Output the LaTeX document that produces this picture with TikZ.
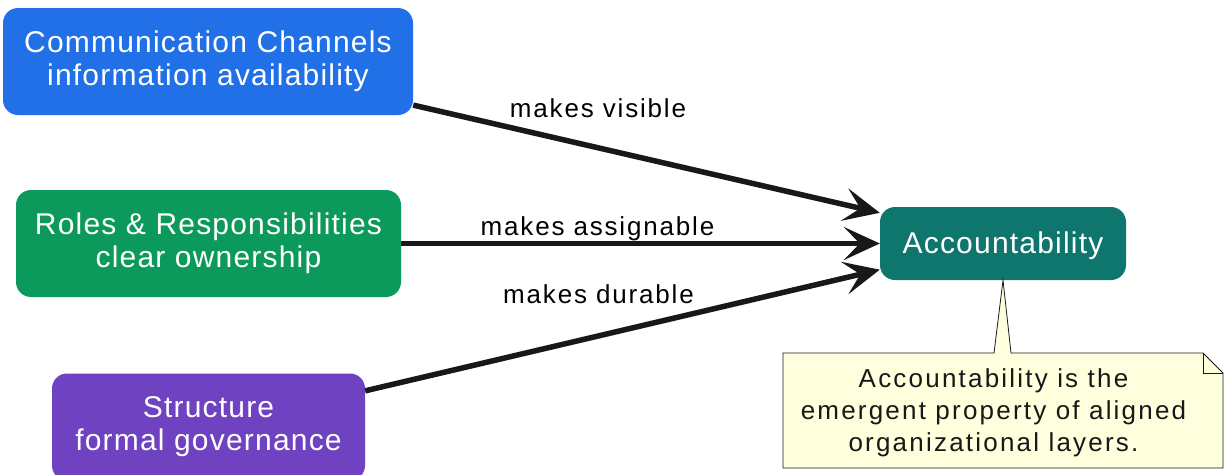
\documentclass[tikz,border=0pt]{standalone}
\usepackage{fontspec}
\setmainfont{Liberation Sans}
\newfontfamily\boxfont[LetterSpace=4]{Liberation Sans}
\newfontfamily\labfont[LetterSpace=7]{Liberation Sans}
\newfontfamily\notefont[LetterSpace=8.5]{Liberation Sans}
\usetikzlibrary{arrows.meta}
\definecolor{commblue}{HTML}{2170E8}
\definecolor{rolegreen}{HTML}{0B9A5B}
\definecolor{structpurple}{HTML}{6F42C1}
\definecolor{accteal}{HTML}{0F766E}
\definecolor{notefill}{HTML}{FEFFDD}
\definecolor{ink}{HTML}{181818}
\tikzset{
  layer/.style={rounded corners=15pt, text=white, align=center,
    font=\boxfont\fontsize{30}{33}\selectfont, inner sep=0pt,
    execute at begin node={\rule{0pt}{26pt}}},
  link/.style={line width=5.5pt, draw=ink,
    -{Stealth[length=36pt, width=33pt, inset=16pt]}},
  linklabel/.style={font=\labfont\fontsize{26}{28}\selectfont, anchor=base, inner sep=0pt},
  notetext/.style={font=\notefont\fontsize{26}{32}\selectfont, align=center, text=ink, inner sep=0pt}
}
\begin{document}
\begin{tikzpicture}[x=1pt, y=-1pt]
  \useasboundingbox (0,0) rectangle (1225,474);
  \clip (0,0) rectangle (1225,474);

  % the three contributing layers
  \node[layer, fill=commblue, minimum width=410pt, minimum height=107pt]
    (comm) at (208,61.5) {Communication Channels\\information availability};
  \node[layer, fill=rolegreen, minimum width=385pt, minimum height=107pt]
    (roles) at (208.5,243.5) {Roles \& Responsibilities\\clear ownership};
  \node[layer, fill=structpurple, minimum width=313pt, minimum height=107pt]
    (struct) at (208.5,427) {Structure\\formal governance};

  % the emergent outcome
  \node[layer, fill=accteal, minimum width=246pt, minimum height=73pt]
    (acc) at (1003,243.5) {Accountability};

  % connectors
  \draw[link] (comm.-12.8) -- (acc.166.7);
  \draw[link] (roles.east) -- (acc.west);
  \draw[link] (struct.13) -- (acc.192.2);

  \node[linklabel] (lvis) at (598,117) {makes visible};
  \node[linklabel] (lasg) at (597.5,235) {makes assignable};
  \node[linklabel] (ldur) at (598.5,303) {makes durable};

  % note with pointer and folded corner
  \coordinate (ntip) at (acc.south);
  \draw[fill=notefill, draw=ink, line width=0.8pt, line join=miter]
    (783,353) -- (994,353) -- (ntip) -- (1011,353) -- (1203,353)
    -- (1223,373) -- (1223,468) -- (783,468) -- cycle;
  \draw[draw=ink, line width=0.8pt] (1203,353) -- (1203,373) -- (1223,373);
  \node[notetext] (note) at (993.5,413) {Accountability is the\\emergent property of aligned\\organizational layers.};
\end{tikzpicture}
\end{document}
